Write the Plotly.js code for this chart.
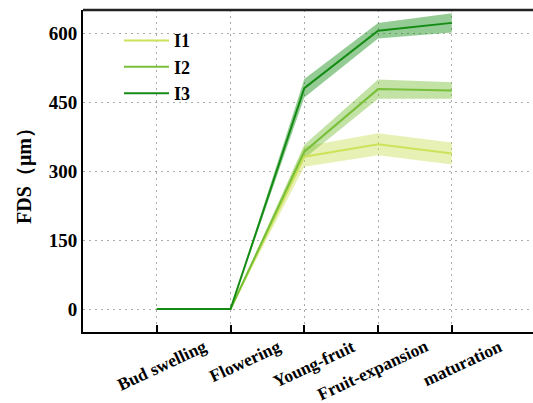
<!DOCTYPE html>
<html><head><meta charset="utf-8">
<script src="https://cdn.plot.ly/plotly-3.0.1.min.js"></script>
<style>body{margin:0;padding:0;background:#fff}#chart{width:533px;height:403px}</style>
</head><body><div id="chart"></div>
<script>
var stages = ["Bud swelling","Flowering","Young-fruit","Fruit-expansion","maturation"];
var seriesNames = ["I1","I2","I3"];
var I1_mean = [0,0,331,358,338];
var I1_err  = [0,0,22,24,24];
var I2_mean = [0,0,342,478,475];
var I2_err  = [0,0,15,21,18];
var I3_mean = [0,0,480,605,622];
var I3_err  = [0,0,20,17,21];
var yTicks = [0,150,300,450,600];

var serif = "Liberation Serif, Times New Roman, serif";
var lineColors = ["#cde25a","#78bf3a","#148c14"];
var bandColors = ["rgba(205,225,90,0.45)","rgba(120,190,58,0.45)","rgba(20,140,20,0.45)"];
var means = [I1_mean,I2_mean,I3_mean];
var errs = [I1_err,I2_err,I3_err];
var xs = stages.map(function(_,i){return i+1;});

var traces = [];
for (var s=0;s<3;s++){
  var up = means[s].map(function(v,i){return v+errs[s][i];});
  var lo = means[s].map(function(v,i){return v-errs[s][i];});
  traces.push({x: xs.concat(xs.slice().reverse()), y: up.concat(lo.slice().reverse()),
    type:'scatter', mode:'lines', fill:'toself', fillcolor:bandColors[s],
    line:{width:0,color:'rgba(0,0,0,0)'}, showlegend:false, hoverinfo:'skip'});
}
for (var s=0;s<3;s++){
  traces.push({x: xs, y: means[s], type:'scatter', mode:'lines', name: '<b>'+seriesNames[s]+'</b>',
    line:{color:lineColors[s], width:2}});
}

var annotations = stages.map(function(t,i){
  return {text:'<b>'+t+'</b>', x: i+1+0.76, y:-0.004, xref:'x', yref:'paper',
    xanchor:'right', yanchor:'top', showarrow:false, textangle:-25,
    font:{family:serif, size:17.5, color:'#000'}};
});

var layout = {
  width:533, height:403,
  margin:{l:83, r:0, t:10, b:71},
  paper_bgcolor:'#fff', plot_bgcolor:'#fff',
  showlegend:true,
  legend:{x:0.08, y:0.962, xanchor:'left', yanchor:'top', bgcolor:'rgba(0,0,0,0)',
    font:{family:serif, size:18, color:'#000'},
    itemwidth:45, tracegroupgap:0},
  xaxis:{range:[0,6.1], tickvals:xs, ticktext:stages.map(function(){return '';}),
    showgrid:true, gridcolor:'#aaa', griddash:'2px,4px', gridwidth:1,
    showline:true, linecolor:'#000', linewidth:2, mirror:false,
    ticks:'inside', ticklen:7, tickwidth:2, tickcolor:'#000', zeroline:false, fixedrange:true},
  yaxis:{range:[-50,650], tickvals:yTicks, ticktext:yTicks.map(function(v){return '<b>'+v+'</b>';}),
    showgrid:true, gridcolor:'#aaa', griddash:'2px,4px', gridwidth:1,
    showline:true, linecolor:'#000', linewidth:2, ticks:'', zeroline:false,
    tickfont:{family:serif, size:19, color:'#000'},
    title:{text:'<b>FDS（μm）</b>', standoff:12, font:{family:serif, size:20, color:'#000'}}},
  shapes:[{type:'line', xref:'paper', yref:'paper', x0:0, x1:1, y0:1, y1:1, line:{color:'#222', width:2.5}}],
  annotations: annotations
};
Plotly.newPlot('chart', traces, layout, {staticPlot:true, displayModeBar:false});
</script></body></html>
